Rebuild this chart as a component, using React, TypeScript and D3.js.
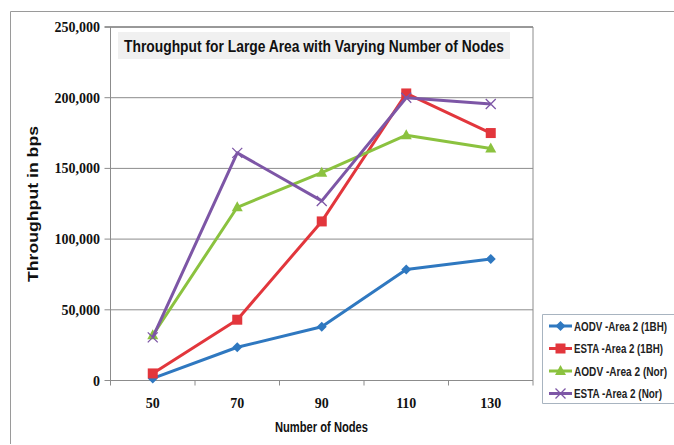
import React from "react";
import * as d3 from "d3";

const categories = ["50", "70", "90", "110", "130"];
const yTicks = [0, 50000, 100000, 150000, 200000, 250000];
const aodv1bh = [1500, 23500, 38000, 78500, 86000];
const esta1bh = [5000, 43000, 112500, 203000, 175000];
const aodvNor = [32000, 122500, 147000, 173500, 164000];
const estaNor = [30500, 161000, 127000, 200000, 195500];

const seriesNames = ["AODV -Area 2 (1BH)", "ESTA -Area 2 (1BH)", "AODV -Area 2 (Nor)", "ESTA -Area 2 (Nor)"];
const seriesValues = [aodv1bh, esta1bh, aodvNor, estaNor];
const seriesColors = ["#2F78C0", "#E2363C", "#8BC23F", "#7D56A6"];
const seriesMarkers = ["diamond", "square", "triangle", "x"];
const legendTextWidths = [93, 89, 93, 88];

const W = 674, H = 445;
const plot = { left: 110.5, right: 533, top: 27, bottom: 380.5 };

function Marker({ type, x, y, color }: { type: string; x: number; y: number; color: string }) {
  if (type === "diamond") {
    const s = 5;
    return <path d={`M${x},${y - s}L${x + s},${y}L${x},${y + s}L${x - s},${y}Z`} fill={color} />;
  }
  if (type === "square") {
    return <rect x={x - 5} y={y - 5} width={10} height={10} fill={color} />;
  }
  if (type === "triangle") {
    return <path d={`M${x},${y - 6}L${x + 5.5},${y + 4}L${x - 5.5},${y + 4}Z`} fill={color} />;
  }
  const s = 5;
  return (
    <path d={`M${x - s},${y - s}L${x + s},${y + s}M${x - s},${y + s}L${x + s},${y - s}`} stroke={color} strokeWidth={1.3} fill="none" />
  );
}

export default function App() {
  const x = d3.scaleBand<string>().domain(categories).range([plot.left, plot.right]);
  const y = d3.scaleLinear().domain([0, 250000]).range([plot.bottom, plot.top]);
  const fmt = d3.format(",");
  const line = d3
    .line<number>()
    .x((_, i) => (x(categories[i]) as number) + x.bandwidth() / 2)
    .y((d) => y(d));
  const boundaries = categories.map((c) => x(c) as number).concat([plot.right]);
  const sans = "'Liberation Sans', Arial, sans-serif";
  const sx = 0.72;

  return (
    <svg width={W} height={H} style={{ position: "absolute", left: 0, top: 0 }}>
      <rect x={0} y={0} width={W} height={H} fill="#fff" />
      <path d={`M10.5,444L10.5,11.5L${W},11.5`} fill="none" stroke="#9a9a9a" strokeWidth={1} />
      {/* gridlines */}
      {yTicks.map((t) => (
        <line key={t} x1={plot.left - 6} x2={plot.right} y1={y(t)} y2={y(t)} stroke={t === 250000 ? "#333" : "#8c8c8c"} strokeWidth={1} />
      ))}
      <line x1={plot.left} x2={plot.left} y1={plot.top} y2={plot.bottom} stroke="#8c8c8c" />
      <line x1={plot.right} x2={plot.right} y1={plot.top} y2={plot.bottom} stroke="#8c8c8c" />
      {boundaries.map((b, i) => (
        <line key={i} x1={b} x2={b} y1={plot.bottom} y2={plot.bottom + 5} stroke="#8c8c8c" />
      ))}
      {/* y tick labels */}
      {yTicks.map((t) => (
        <text key={t} x={100} y={y(t) + 5} textAnchor="end" fontFamily="'Liberation Serif', serif" fontWeight="bold" fontSize={14} fill="#111">
          {fmt(t)}
        </text>
      ))}
      {/* x tick labels */}
      {categories.map((c) => (
        <text key={c} x={(x(c) as number) + x.bandwidth() / 2} y={408} textAnchor="middle" fontFamily="'Liberation Serif', serif" fontWeight="bold" fontSize={14} fill="#111">
          {c}
        </text>
      ))}
      <text x={275} y={432} fontFamily={sans} fontWeight="bold" fontSize={15} fill="#111" textLength={93} lengthAdjust="spacingAndGlyphs">
        Number of Nodes
      </text>
      <text transform="translate(38,282) rotate(-90)" fontFamily={sans} fontWeight="bold" fontSize={14} fill="#111" textLength={156} lengthAdjust="spacingAndGlyphs">
        Throughput in bps
      </text>
      {/* title */}
      <rect x={118} y={32} width={392} height={27} fill="#f0f0f0" />
      <text x={124} y={51.5} fontFamily={sans} fontWeight="bold" fontSize={17} fill="#111" textLength={380} lengthAdjust="spacingAndGlyphs">
        Throughput for Large Area with Varying Number of Nodes
      </text>
      {/* series */}
      {seriesValues.map((vals, si) => (
        <g key={si}>
          <path d={line(vals) as string} fill="none" stroke={seriesColors[si]} strokeWidth={3} strokeLinejoin="round" />
          {vals.map((v, i) => (
            <Marker key={i} type={seriesMarkers[si]} x={(x(categories[i]) as number) + x.bandwidth() / 2} y={y(v)} color={seriesColors[si]} />
          ))}
        </g>
      ))}
      {/* legend */}
      <path d={`M${W},314.5L542.5,314.5L542.5,403.5L${W},403.5`} fill="#fff" stroke="#a8b4c0" />
      {seriesNames.map((n, i) => {
        const ly = 326 + i * 22.5;
        return (
          <g key={n}>
            <line x1={549} x2={572} y1={ly} y2={ly} stroke={seriesColors[i]} strokeWidth={3} />
            <Marker type={seriesMarkers[i]} x={560.5} y={ly} color={seriesColors[i]} />
            <g transform={`translate(574,${ly + 4.5}) scale(${sx},1)`}>
              <text x={0} y={0} fontFamily={sans} fontWeight="bold" fontSize={13} fill="#222" textLength={legendTextWidths[i] / sx} lengthAdjust="spacingAndGlyphs">
                {n}
              </text>
            </g>
          </g>
        );
      })}
    </svg>
  );
}
